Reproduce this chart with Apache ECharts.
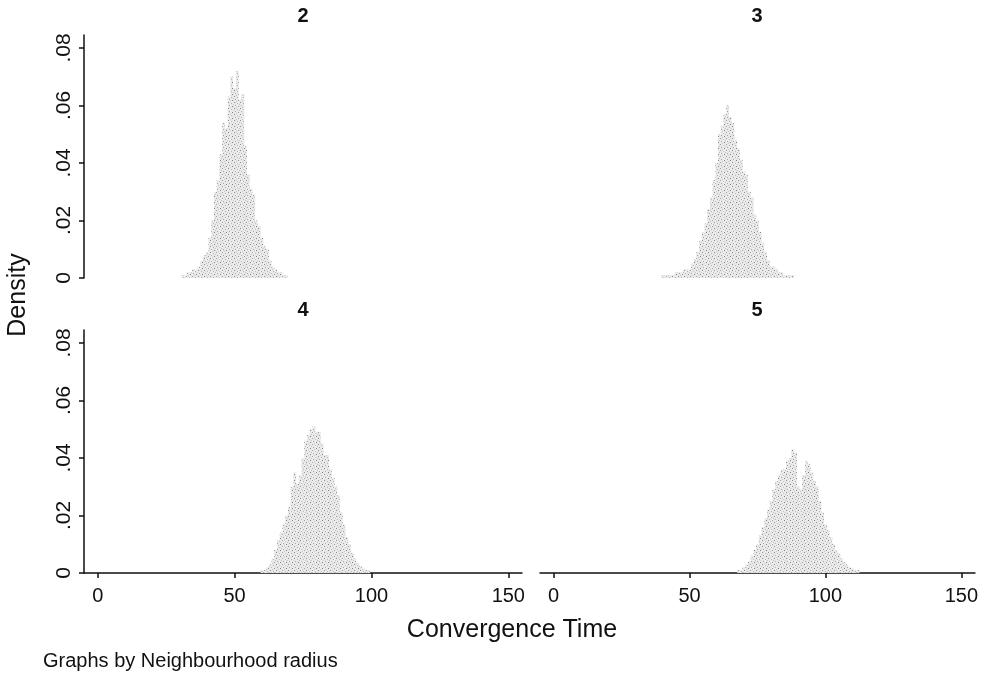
<!DOCTYPE html>
<html>
<head>
<meta charset="utf-8">
<script src="https://cdn.jsdelivr.net/npm/echarts@6/dist/echarts.min.js"></script>
<style>
html,body{margin:0;padding:0;background:#fff;}
#chart{width:981px;height:676px;}
</style>
</head>
<body>
<div id="chart"></div>
<script>
// ---- data ----
const panelLabels = ['2', '3', '4', '5'];
const xTicks = [0, 50, 100, 150];
const yTicks = [0, 0.02, 0.04, 0.06, 0.08];
const binWidth = 1;

const r2Time = [31,32,33,34,35,36,37,38,39,40,41,42,43,44,45,46,47,48,49,50,51,52,53,54,55,56,57,58,59,60,61,62,63,64,65,66,67,68,69];
const r2Dens = [0.001,0.001,0.002,0.002,0.003,0.003,0.004,0.006,0.008,0.009,0.014,0.020,0.030,0.034,0.043,0.054,0.052,0.063,0.070,0.066,0.072,0.062,0.064,0.046,0.036,0.031,0.029,0.020,0.018,0.014,0.011,0.010,0.006,0.004,0.003,0.002,0.002,0.001,0.001];

const r3Time = [40,41,42,43,44,45,46,47,48,49,50,51,52,53,54,55,56,57,58,59,60,61,62,63,64,65,66,67,68,69,70,71,72,73,74,75,76,77,78,79,80,81,82,83,84,85,86,87,88];
const r3Dens = [0.001,0.001,0.001,0.001,0.001,0.002,0.002,0.002,0.003,0.003,0.003,0.005,0.0065,0.009,0.013,0.016,0.019,0.024,0.028,0.034,0.040,0.050,0.053,0.057,0.060,0.056,0.054,0.048,0.045,0.041,0.037,0.036,0.030,0.028,0.022,0.020,0.016,0.012,0.009,0.006,0.004,0.004,0.003,0.002,0.002,0.001,0.001,0.001,0.001];

const r4Time = [60,61,62,63,64,65,66,67,68,69,70,71,72,73,74,75,76,77,78,79,80,81,82,83,84,85,86,87,88,89,90,91,92,93,94,95,96,97,98,99];
const r4Dens = [0.001,0.001,0.002,0.003,0.005,0.008,0.0115,0.014,0.017,0.020,0.023,0.030,0.035,0.031,0.034,0.040,0.046,0.048,0.050,0.051,0.049,0.049,0.045,0.041,0.041,0.036,0.033,0.030,0.027,0.021,0.017,0.0125,0.010,0.007,0.005,0.0035,0.0025,0.0015,0.001,0.001];

const r5Time = [68,69,70,71,72,73,74,75,76,77,78,79,80,81,82,83,84,85,86,87,88,89,90,91,92,93,94,95,96,97,98,99,100,101,102,103,104,105,106,107,108,109,110,111,112];
const r5Dens = [0.001,0.001,0.002,0.003,0.004,0.006,0.008,0.010,0.013,0.016,0.019,0.022,0.025,0.029,0.032,0.034,0.036,0.036,0.039,0.040,0.043,0.042,0.030,0.029,0.034,0.039,0.038,0.035,0.032,0.030,0.025,0.021,0.017,0.015,0.0125,0.010,0.008,0.0068,0.005,0.0037,0.003,0.002,0.0015,0.001,0.001];

const panelTimes = [r2Time, r3Time, r4Time, r5Time];
const panelDens = [r2Dens, r3Dens, r4Dens, r5Dens];

// ---- stipple texture (style only) ----
function makePattern() {
  const c = document.createElement('canvas');
  c.width = 6; c.height = 6;
  const g = c.getContext('2d');
  g.fillStyle = '#e9e9e9';
  g.fillRect(0, 0, 6, 6);
  const dots = [[0,0,'#8c8c8c'],[3,1,'#b4b4b4'],[1,3,'#a4a4a4'],[4,4,'#808080'],[2,5,'#c8c8c8'],[5,2,'#c0c0c0']];
  dots.forEach(d => { g.fillStyle = d[2]; g.fillRect(d[0], d[1], 1, 1); });
  return { image: c, repeat: 'repeat' };
}
const stipple = makePattern();

const FONT = '"Liberation Sans", Arial, Helvetica, sans-serif';
const lineStyle = { color: '#111', width: 1.5 };

const grids = [
  { left: 84, top: 35, width: 438, height: 243 },
  { left: 540, top: 35, width: 435, height: 243 },
  { left: 84, top: 330, width: 438, height: 243 },
  { left: 540, top: 330, width: 435, height: 243 }
];

const xAxes = grids.map((g, i) => ({
  type: 'value', gridIndex: i, min: -5, max: 155,
  show: i >= 2,
  splitLine: { show: false },
  axisLine: { show: true, onZero: false, lineStyle: lineStyle },
  axisTick: { show: true, length: 5, inside: false, lineStyle: lineStyle, customValues: xTicks },
  axisLabel: { show: true, customValues: xTicks, margin: 13, fontFamily: FONT, fontSize: 20, color: '#111' }
}));

const yAxes = grids.map((g, i) => ({
  type: 'value', gridIndex: i, min: 0, max: 0.0845,
  show: i % 2 === 0,
  splitLine: { show: false },
  axisLine: { show: true, onZero: false, lineStyle: lineStyle },
  axisTick: { show: true, length: 5, lineStyle: lineStyle, customValues: yTicks },
  axisLabel: {
    show: true, customValues: yTicks, rotate: 90, margin: 9,
    fontFamily: FONT, fontSize: 21, color: '#111',
    formatter: v => (v === 0 ? '0' : String(+v.toFixed(2)).replace(/^0/, ''))
  }
}));

function renderItem(params, api) {
  const x = api.value(0), y = api.value(1);
  const p0 = api.coord([x - binWidth / 2, y]);
  const p1 = api.coord([x + binWidth / 2, 0]);
  return {
    type: 'rect',
    shape: { x: p0[0], y: p0[1], width: p1[0] - p0[0], height: p1[1] - p0[1] },
    style: { fill: stipple }
  };
}

const series = panelTimes.map((t, i) => ({
  type: 'custom', xAxisIndex: i, yAxisIndex: i,
  renderItem: renderItem,
  data: t.map((v, k) => [v, panelDens[i][k]]),
  silent: true
}));

const titleCenters = [[298, 1], [752, 1], [298, 295], [752, 295]];
const titles = panelLabels.map((lab, i) => ({
  text: lab, left: titleCenters[i][0], top: titleCenters[i][1], textAlign: 'center',
  textStyle: { fontFamily: FONT, fontSize: 20, fontWeight: 'bold', color: '#111' }
}));

const chart = echarts.init(document.getElementById('chart'), null, { renderer: 'canvas' });
chart.setOption({
  animation: false,
  backgroundColor: '#fff',
  title: titles,
  grid: grids,
  xAxis: xAxes,
  yAxis: yAxes,
  series: series,
  graphic: [
    { type: 'text', x: 18, y: 295, rotation: Math.PI / 2,
      style: { text: 'Density', font: '25px ' + FONT, fill: '#111', textAlign: 'center', textVerticalAlign: 'middle' } },
    { type: 'text', x: 512, y: 630,
      style: { text: 'Convergence Time', font: '25px ' + FONT, fill: '#111', textAlign: 'center', textVerticalAlign: 'middle' } },
    { type: 'text', x: 43, y: 661,
      style: { text: 'Graphs by Neighbourhood radius', font: '20px ' + FONT, fill: '#111', textAlign: 'left', textVerticalAlign: 'middle' } }
  ]
});
</script>
</body>
</html>
